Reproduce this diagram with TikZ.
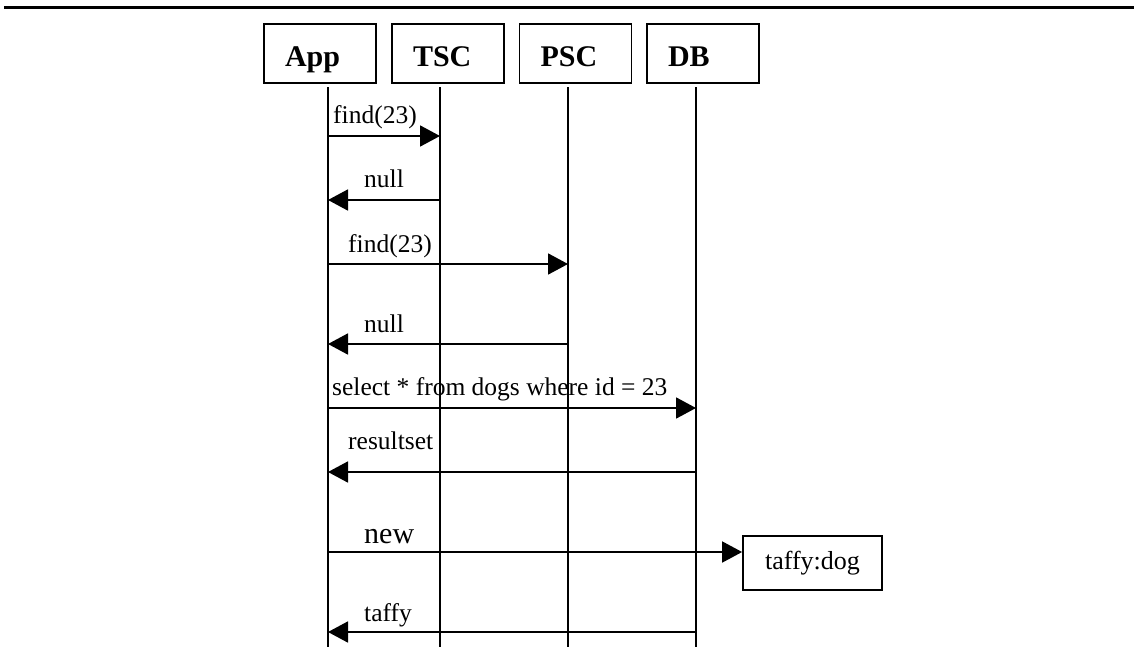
\documentclass[tikz,border=0pt]{standalone}
\usepackage{fontspec}
\setmainfont{Liberation Serif}
\usetikzlibrary{arrows.meta}
\begin{document}
\begin{tikzpicture}[x=1pt,y=-1pt,
  every node/.style={inner sep=0pt},
  head/.style={draw,line width=1.8pt,minimum height=59pt,text width=70pt,
    text height=25pt,text depth=0pt,
    inner xsep=21pt,align=left,font=\fontsize{30}{36}\selectfont\bfseries},
  life/.style={line width=1.8pt},
  msg/.style={line width=1.8pt,-{Triangle[length=20pt,width=21pt]}},
  lbl/.style={anchor=base west,font=\fontsize{25.5}{30}\selectfont},
  objbox/.style={draw,line width=1.8pt,minimum width=139pt,minimum height=54pt,
    font=\fontsize{26}{30}\selectfont}]
\useasboundingbox (0,0) rectangle (1134,667);
% top rule
\coordinate (ruleL) at (4,7);
\coordinate (ruleR) at (1134,7);
\draw[line width=3pt] (ruleL) -- (ruleR);
% headers
\node[head] (app) at (320,53.5) {App};
\node[head] (tsc) at (448,53.5) {TSC};
\node[head] (psc) at (575.5,53.5) {PSC};
\node[head] (db)  at (703,53.5) {DB};
% lifelines
\coordinate (appT) at (328,87); \coordinate (appB) at (328,647);
\coordinate (tscT) at (440,87); \coordinate (tscB) at (440,647);
\coordinate (pscT) at (568,87); \coordinate (pscB) at (568,647);
\coordinate (dbT)  at (696,87); \coordinate (dbB)  at (696,647);
\draw[life] (appT) -- (appB);
\draw[life] (tscT) -- (tscB);
\draw[life] (pscT) -- (pscB);
\draw[life] (dbT) -- (dbB);
% message rows
\coordinate (r1) at (0,136);
\coordinate (r2) at (0,200);
\coordinate (r3) at (0,264);
\coordinate (r4) at (0,344);
\coordinate (r5) at (0,408);
\coordinate (r6) at (0,472);
\coordinate (r7) at (0,552);
\coordinate (r8) at (0,632);
% object
\node[objbox] (taffy) at (812.5,563) {taffy:dog};
% messages
\draw[msg] (appT |- r1) -- (tscT |- r1);
\draw[msg] (tscT |- r2) -- (appT |- r2);
\draw[msg] (appT |- r3) -- (pscT |- r3);
\draw[msg] (pscT |- r4) -- (appT |- r4);
\draw[msg] (appT |- r5) -- (dbT |- r5);
\draw[msg] (dbT |- r6) -- (appT |- r6);
\draw[msg] (appT |- r7) -- (taffy.west |- r7);
\draw[msg] (dbT |- r8) -- (appT |- r8);
% labels
\node[lbl] (l1) at (333,123) {find(23)};
\node[lbl] (l2) at (364,187) {null};
\node[lbl] (l3) at (348,252) {find(23)};
\node[lbl] (l4) at (364,332) {null};
\node[lbl] (l5) at (332,395) {select * from dogs where id = 23};
\node[lbl] (l6) at (348,449) {resultset};
\node[lbl,font=\fontsize{30}{36}\selectfont] (l7) at (364,543) {new};
\node[lbl] (l8) at (364,621) {taffy};
\end{tikzpicture}
\end{document}
